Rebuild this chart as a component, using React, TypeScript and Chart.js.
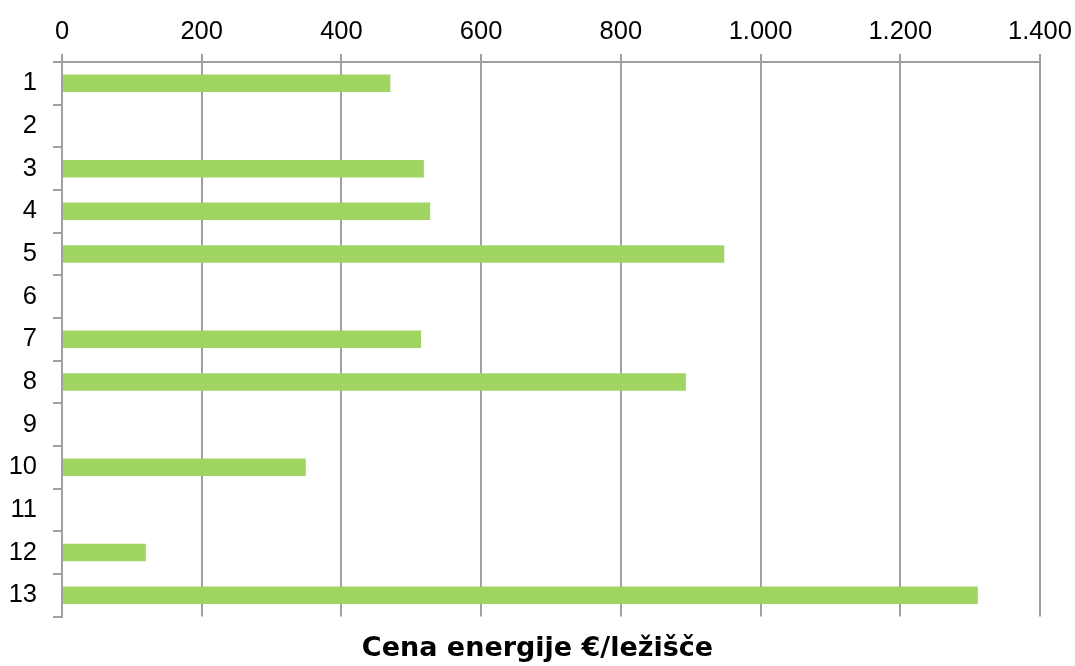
import React, { useEffect, useRef } from "react";
import { Chart, registerables } from "chart.js";

Chart.register(...registerables);

// Energy cost per bed for each facility (empty rows have no data)
const categories: string[] = ["1", "2", "3", "4", "5", "6", "7", "8", "9", "10", "11", "12", "13"];
const costPerBed: (number | null)[] = [470, null, 518, 527, 948, null, 514, 893, null, 349, null, 120, 1311];
const xTicks: number[] = [0, 200, 400, 600, 800, 1000, 1200, 1400];
const chartTitle = "Cena energije €/ležišče";

const BAR_COLOR = "#a1d562";
const GRID_COLOR = "#a0a0a0";
const FONT_FAMILY = "'Liberation Sans', Arial, sans-serif";
const TITLE_FAMILY = "'DejaVu Sans', Verdana, sans-serif";

const formatThousands = (v: number): string =>
  Math.round(v).toString().replace(/\B(?=(\d{3})+(?!\d))/g, ".");

export default function App() {
  const canvasRef = useRef<HTMLCanvasElement | null>(null);

  useEffect(() => {
    const canvas = canvasRef.current;
    if (!canvas) return;
    const chart = new Chart(canvas, {
      type: "bar",
      data: {
        labels: categories,
        datasets: [
          {
            data: costPerBed,
            backgroundColor: BAR_COLOR,
            borderWidth: 0,
            barPercentage: 0.41,
            categoryPercentage: 1,
          },
        ],
      },
      options: {
        indexAxis: "y",
        responsive: false,
        animation: false,
        layout: { padding: 0 },
        plugins: {
          legend: { display: false },
          tooltip: { enabled: false },
          title: {
            display: true,
            text: chartTitle,
            position: "bottom",
            color: "#000",
            font: { family: TITLE_FAMILY, size: 27, weight: "bold" },
            padding: { top: 16, bottom: 1 },
          },
        },
        scales: {
          x: {
            type: "linear",
            position: "top",
            min: 0,
            max: 1400,
            afterBuildTicks: (scale: any) => {
              scale.ticks = xTicks.map((v) => ({ value: v }));
            },
            afterFit: (scale: any) => {
              // fixed header height and room on the right for the last label
              scale.height = 62;
              scale.paddingLeft = 0;
              scale.paddingRight = 35;
            },
            ticks: {
              color: "#000",
              font: { family: FONT_FAMILY, size: 25.5 },
              padding: 7,
              callback: (v: any) => formatThousands(Number(v)),
            },
            grid: {
              color: GRID_COLOR,
              lineWidth: 2,
              tickLength: 8,
              drawTicks: true,
            },
            border: { display: true, color: GRID_COLOR, width: 2 },
          },
          y: {
            type: "category",
            afterFit: (scale: any) => {
              scale.width = 62;
            },
            ticks: {
              color: "#000",
              font: { family: FONT_FAMILY, size: 25.5 },
              padding: 16,
            },
            grid: {
              offset: true,
              drawOnChartArea: false,
              drawTicks: true,
              tickLength: 9,
              color: GRID_COLOR,
              lineWidth: 2,
            },
            border: { display: true, color: GRID_COLOR, width: 2 },
          },
        },
      },
    });
    return () => chart.destroy();
  }, []);

  return (
    <div style={{ position: "absolute", left: 0, top: 0, width: 1075, height: 666, background: "#fff" }}>
      <canvas ref={canvasRef} width={1075} height={666} />
    </div>
  );
}
